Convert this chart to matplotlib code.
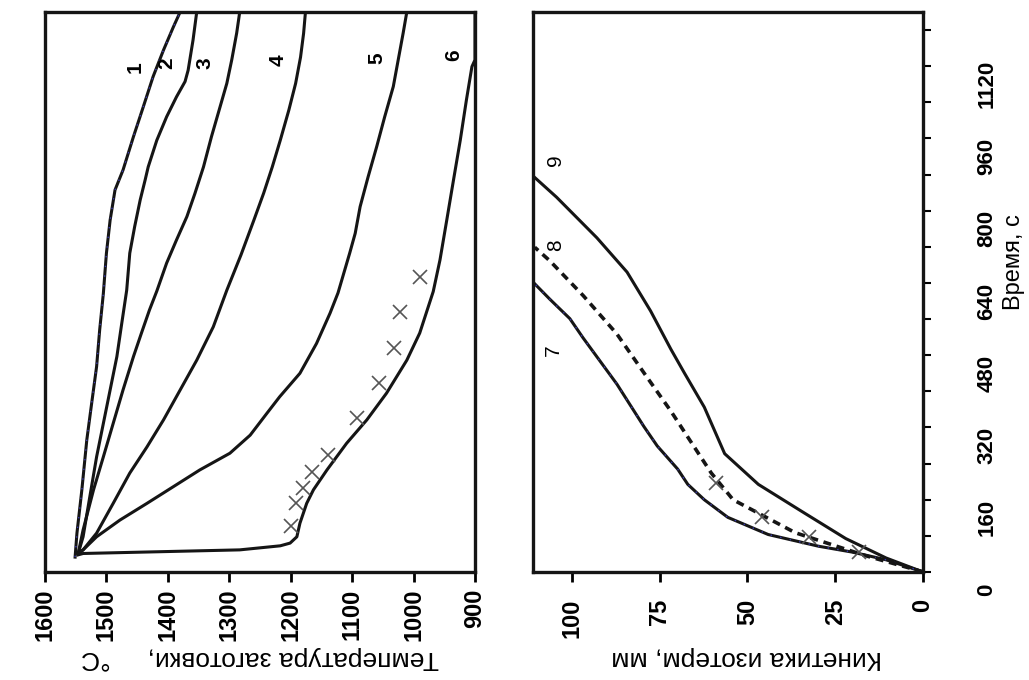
import numpy as np
import matplotlib
matplotlib.use("Agg")
from matplotlib import pyplot as plt

# кривые 1-6: температура заготовки (°C) во времени (с)
t1 = [33, 86, 182, 292, 374, 455, 536, 617, 706, 779, 846, 890, 964, 1030, 1097, 1156, 1207, 1240]
T1 = [1551, 1548, 1540, 1532, 1524, 1516, 1511, 1505, 1500, 1494, 1486, 1473, 1456, 1440, 1424, 1407, 1391, 1380]
t2 = [41, 78, 167, 255, 329, 403, 477, 551, 624, 706, 765, 824, 868, 897, 956, 1008, 1052, 1086, 1111, 1178, 1240]
T2 = [1546, 1538, 1527, 1516, 1505, 1494, 1483, 1475, 1467, 1462, 1454, 1445, 1437, 1432, 1418, 1402, 1386, 1372, 1367, 1359, 1353]
t3 = [41, 93, 182, 255, 329, 403, 477, 529, 580, 622, 684, 735, 787, 838, 897, 964, 1030, 1082, 1134, 1193, 1240]
T3 = [1546, 1538, 1521, 1505, 1489, 1473, 1456, 1443, 1430, 1418, 1402, 1386, 1369, 1356, 1342, 1329, 1315, 1304, 1296, 1288, 1283]
t4 = [41, 49, 86, 152, 219, 277, 337, 403, 469, 543, 624, 702, 779, 839, 897, 956, 1023, 1082, 1140, 1193, 1240]
T4 = [1546, 1538, 1516, 1489, 1462, 1434, 1407, 1380, 1353, 1326, 1304, 1281, 1260, 1244, 1230, 1217, 1203, 1192, 1184, 1179, 1176]
t5 = [41, 49, 78, 115, 152, 189, 226, 263, 303, 351, 388, 440, 506, 573, 618, 706, 750, 809, 875, 942, 1008, 1075, 1134, 1193, 1240]
T5 = [1546, 1538, 1516, 1478, 1434, 1391, 1348, 1299, 1266, 1239, 1218, 1185, 1158, 1136, 1123, 1104, 1095, 1087, 1074, 1060, 1047, 1033, 1025, 1017, 1011]
t6 = [38, 41, 49, 58, 64, 78, 108, 152, 182, 226, 285, 337, 396, 469, 529, 621, 691, 779, 868, 956, 1045, 1119, 1134, 1240]
T6 = [1546, 1538, 1283, 1217, 1201, 1190, 1185, 1174, 1163, 1141, 1109, 1076, 1044, 1011, 990, 968, 957, 946, 935, 924, 914, 905, 900, 900]
# эксперимент (крестики)
t_exp = [653, 576, 496, 418, 340, 260, 222, 186, 153, 102]
T_exp = [990, 1022, 1032, 1057, 1092, 1140, 1166, 1180, 1191, 1200]

# кривые 7-9: кинетика изотерм (мм) во времени (с)
t7 = [0, 1.5, 27, 44, 57, 83, 121, 160, 194, 228, 279, 322, 416, 518, 561, 604, 642]
d7 = [0, 0.5, 10.5, 20.1, 29.7, 44.1, 55.6, 62.3, 67.0, 69.9, 75.7, 79.5, 87.2, 96.8, 100.6, 106.3, 111.1]
t8 = [0, 1.5, 36, 87, 160, 219, 288, 356, 441, 527, 612, 689, 719]
d8 = [0, 0.5, 16.3, 36.4, 54.1, 60.3, 66.1, 71.8, 79.5, 87.2, 96.8, 106.3, 110.6]
t9 = [0, 1.5, 31, 74, 134, 194, 262, 365, 441, 493, 578, 664, 740, 830, 877]
d9 = [0, 0.5, 10.5, 22.0, 34.5, 46.9, 56.5, 62.3, 68.0, 71.8, 77.6, 84.3, 92.9, 104.4, 111.1]
t_exp2 = [198, 121, 78, 44]
d_exp2 = [58.9, 46.0, 32.6, 18.2]

temp_ticks = [1600, 1500, 1400, 1300, 1200, 1100, 1000, 900]
kin_ticks = [100, 75, 50, 25, 0]
time_labels = [0, 160, 320, 480, 640, 800, 960, 1120]

plt.rcParams['font.family'] = ['Liberation Sans', 'DejaVu Sans']
fig = plt.figure(figsize=(10.29, 6.8), dpi=100)
W, H = 1029, 680


def box(x0, y0, x1, y1):
    return [x0 / W, 1 - y1 / H, (x1 - x0) / W, (y1 - y0) / H]


ax1 = fig.add_axes(box(45, 12, 475, 572))
ax2 = fig.add_axes(box(533, 12, 923, 572))

lw = 2.2
ink = '#151515'
for T, t in [(T2, t2), (T3, t3), (T4, t4), (T5, t5), (T6, t6)]:
    ax1.plot(T, t, color=ink, lw=lw, solid_joinstyle='round')
ax1.plot(T1, t1, color=ink, lw=lw, solid_joinstyle='round')
ax1.plot(T1, t1, color='#3b3bb0', lw=1.0, ls=(0, (1, 6)))
ax1.plot(T_exp, t_exp, ls='none', marker='x', ms=10, mew=1.2, color='#555555')

ax1.set_xlim(1600, 900)
ax1.set_ylim(0, 1240)
ax1.set_xticks(temp_ticks)
ax1.set_yticks([])
ax1.tick_params(axis='x', direction='out', length=7, width=2, pad=5,
                labelsize=17, labelrotation=90)
for lab in ax1.get_xticklabels():
    lab.set_fontweight('bold')

for i, (x, y) in enumerate([(1454, 1119), (1402, 1126), (1340, 1126),
                            (1220, 1134), (1060, 1137), (935, 1145)]):
    ax1.text(x, y, str(i + 1), rotation=90, fontsize=15, fontweight='bold',
             ha='center', va='center')

ax2.plot(d9, t9, color=ink, lw=lw, solid_joinstyle='round')
ax2.plot(d7, t7, color=ink, lw=lw, solid_joinstyle='round')
ax2.plot(d7, t7, color='#3b3bb0', lw=1.0, ls=(0, (1, 6)))
ax2.plot(d8, t8, color=ink, lw=lw + 0.4, ls=(0, (2.2, 1.6)))
ax2.plot(d_exp2, t_exp2, ls='none', marker='x', ms=10, mew=1.2, color='#555555')

ax2.set_xlim(111.1, 0)
ax2.set_ylim(0, 1240)
ax2.set_xticks(kin_ticks)
ax2.tick_params(axis='x', direction='out', length=7, width=2, pad=12,
                labelsize=17, labelrotation=90)
for lab in ax2.get_xticklabels():
    lab.set_fontweight('bold')
ax2.yaxis.tick_right()
ax2.set_yticks(np.arange(0, 1201, 80))
ax2.set_yticklabels([])
ax2.tick_params(axis='y', direction='out', length=6, width=1.5)
for tl in time_labels:
    ax2.annotate(str(tl), xy=(1, tl), xycoords=ax2.get_yaxis_transform(),
                 xytext=(64, -18), textcoords='offset pixels', rotation=90,
                 fontsize=16, fontweight='bold', ha='center', va='center')

for i, (x, y) in enumerate([(105.4, 491), (104.6, 724), (104.6, 912)]):
    ax2.text(x, y, str(i + 7), rotation=90, fontsize=15,
             ha='center', va='center')

for ax in (ax1, ax2):
    for s in ax.spines.values():
        s.set_linewidth(2.4)
        s.set_color(ink)

fig.text(260 / W, 1 - 658 / H, 'Температура заготовки,     °C', rotation=180,
         fontsize=19, ha='center', va='center')
fig.text(747 / W, 1 - 658 / H, 'Кинетика изотерм, мм', rotation=180,
         fontsize=19, ha='center', va='center')
fig.text(1014 / W, 1 - 262 / H, 'Время, с', rotation=90,
         fontsize=17, ha='center', va='center')

fig.savefig('out.png', dpi=100)
